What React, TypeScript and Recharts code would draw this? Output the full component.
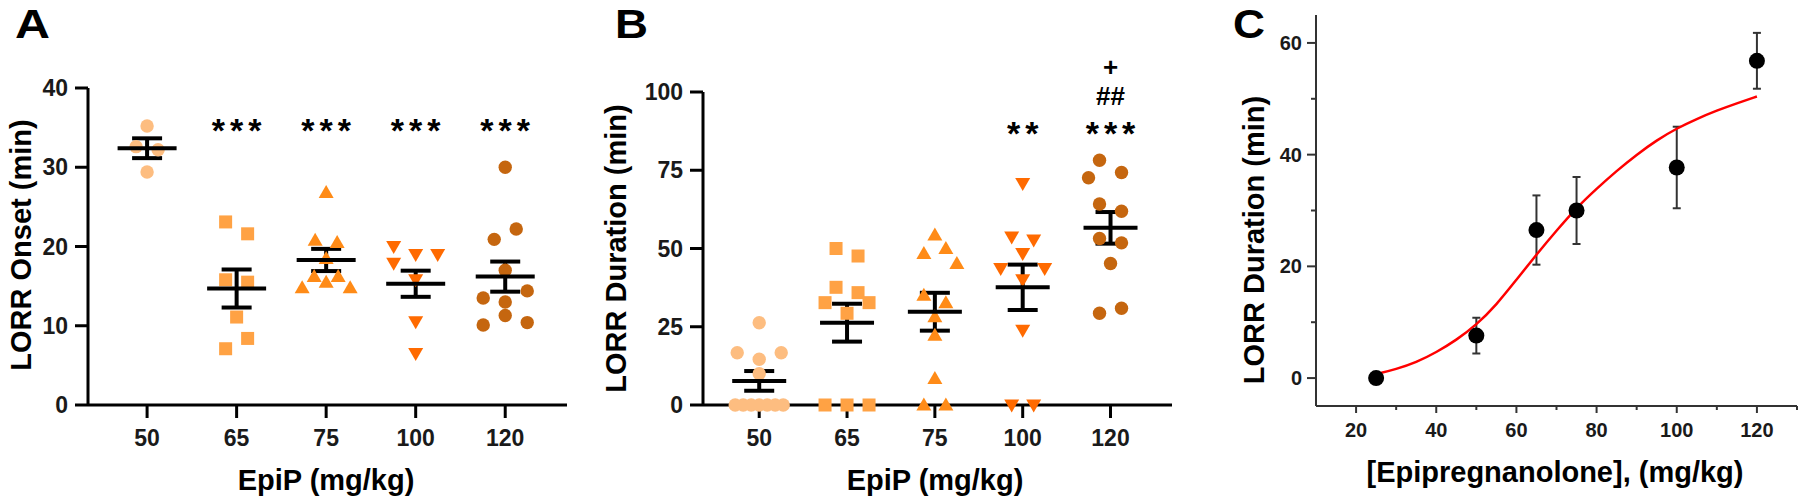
import React from "react";
import {
  ComposedChart,
  ErrorBar,
  Label,
  Line,
  Scatter,
  XAxis,
  YAxis,
} from "recharts";

const FONT = "Arial, 'Liberation Sans', Helvetica, sans-serif";

const doses = ["50", "65", "75", "100", "120"];
const groupColors = ["#FDBD80", "#FFA244", "#FF8B17", "#FF6A00", "#C5660F"];

// A: LORR onset (min), per dose
const onset50 = [35.2, 32.6, 32.2, 29.4];
const onset65 = [23.1, 21.6, 15.8, 15.5, 11.1, 7.1, 8.4];
const onset75 = [26.8, 20.8, 20.5, 18.5, 14.8, 16.2, 15.5, 16.2, 14.8];
const onset100 = [20.0, 19.0, 19.0, 17.9, 15.8, 10.5, 6.5];
const onset120 = [30.0, 20.9, 22.2, 17.0, 13.5, 13.0, 14.4, 10.1, 11.3, 10.4];
const onsetMean = [32.4, 14.7, 18.3, 15.3, 16.2];
const onsetSem = [1.25, 2.4, 1.4, 1.65, 1.9];
const onsetSig = [[], ["***"], ["***"], ["***"], ["***"]];

// B: LORR duration (min)
const dur50 = [26.3, 16.7, 14.6, 16.7, 10.0, 0, 0, 0, 0, 0, 0, 0];
const dur65 = [50.0, 47.6, 37.6, 35.9, 32.7, 29.3, 32.7, 0, 0, 0];
const dur75 = [54.3, 48.4, 50.0, 45.2, 35.1, 32.7, 28.2, 22.3, 8.5, 0, 0];
const dur100 = [70.8, 53.7, 52.7, 48.4, 43.6, 40.0, 43.6, 23.9, 0, 0];
const dur120 = [78.2, 74.3, 72.6, 64.2, 61.9, 53.2, 51.8, 45.2, 29.3, 30.9];
const durMean = [7.7, 26.3, 29.8, 37.6, 56.6];
const durSem = [3.15, 6.05, 6.05, 7.25, 5.05];
const durSig = [[], [], [], ["**"], ["***", "##", "+"]];

// C: dose-response, mean +/- SEM and the fitted curve
const crDose = [25, 50, 65, 75, 100, 120];
const crMean = [0, 7.6, 26.5, 30.0, 37.7, 56.8];
const crSem = [0, 3.2, 6.2, 6.0, 7.3, 5.0];
const fitDose = [25, 30, 35, 40, 45, 50, 55, 60, 65, 70, 75, 80, 85, 90, 95, 100, 105, 110, 115, 120];
const fitDur = [0.7, 1.6, 2.8, 4.6, 6.8, 9.5, 13.1, 17.6, 22.1, 26.4, 30.5, 33.9, 37.1, 40.0, 42.6, 44.7, 46.4, 47.9, 49.2, 50.4];

const H = 499;
const tickFont = { fontFamily: FONT, fontSize: 23, fontWeight: 700, fill: "#1a1a1a" };
const titleStyle: React.CSSProperties = { fontFamily: FONT, fontSize: 29, fontWeight: 700, fill: "#000" };

// prism-like column scatter: rows of close values are spread symmetrically
function swarm(vals: number[], pxPerUnit: number): number[] {
  const STEP = 22, SPREAD = 48, GAP = 13;
  const order = vals.map((_, i) => i).sort((a, b) => vals[b] - vals[a] || a - b);
  const clusters: number[][] = [];
  for (const i of order) {
    const c = clusters[clusters.length - 1];
    if (c && (vals[c[0]] - vals[i]) * pxPerUnit < GAP) c.push(i);
    else clusters.push([i]);
  }
  const off: number[] = new Array(vals.length).fill(0);
  const placed: number[] = [];
  const hits = (i: number, dx: number) =>
    placed.some((j) => Math.abs(off[j] - dx) < GAP && Math.abs(vals[j] - vals[i]) * pxPerUnit < GAP);
  for (const c of clusters) {
    const members = [...c].sort((a, b) => a - b);
    const n = members.length;
    if (n === 1) {
      const i = members[0];
      const cands = [0, -STEP, STEP, -2 * STEP, 2 * STEP];
      const dx = cands.find((d) => !hits(i, d));
      off[i] = dx === undefined ? 0 : dx;
    } else {
      const s = Math.min(STEP, SPREAD / (n - 1));
      members.forEach((m, k) => (off[m] = (k - (n - 1) / 2) * s));
    }
    placed.push(...members);
  }
  return off;
}

function markerShape(g: number) {
  const color = groupColors[g];
  return (p: any) => {
    const { cx, cy } = p;
    if (cx == null || cy == null) return <g />;
    if (g === 1) return <rect x={cx - 6.5} y={cy - 6.5} width={13} height={13} fill={color} />;
    if (g === 2)
      return <polygon points={`${cx},${cy - 7.5} ${cx + 7.5},${cy + 5.5} ${cx - 7.5},${cy + 5.5}`} fill={color} />;
    if (g === 3)
      return <polygon points={`${cx - 7.5},${cy - 5.5} ${cx + 7.5},${cy - 5.5} ${cx},${cy + 7.5}`} fill={color} />;
    return <circle cx={cx} cy={cy} r={6.7} fill={color} />;
  };
}

function SigMark(p: any) {
  const lines: string[] = p.payload.lines;
  return (
    <g>
      {lines.map((t, k) => {
        const star = t.indexOf("*") >= 0;
        const fs = star ? 34 : 26;
        const y = p.cy - k * 29.5 + fs * (star ? 0.58 : 0.35);
        return (
          <text
            key={k}
            x={p.cx + (star ? 2.5 : 0)}
            y={y}
            textAnchor="middle"
            fontFamily={FONT}
            fontWeight={700}
            fontSize={fs}
            letterSpacing={star ? 5 : 0}
            fill="#000"
          >
            {t}
          </text>
        );
      })}
    </g>
  );
}

function yTitle(text: string, dx: number, dy: number) {
  return (
    <Label
      content={(props: any) => {
        const vb = props.viewBox;
        const x = vb.x + dx;
        const y = vb.y + vb.height / 2 + dy;
        return (
          <text x={x} y={y} transform={`rotate(-90 ${x} ${y})`} textAnchor="middle" dominantBaseline="central" style={titleStyle}>
            {text}
          </text>
        );
      }}
    />
  );
}

function xTitle(text: string, dx: number, fromBottom: number) {
  return (
    <Label
      content={(props: any) => {
        const vb = props.viewBox;
        return (
          <text x={vb.x + vb.width / 2 + dx} y={vb.y + vb.height - fromBottom} textAnchor="middle" style={titleStyle}>
            {text}
          </text>
        );
      }}
    />
  );
}

interface DotPlotProps {
  groups: number[][];
  mean: number[];
  sem: number[];
  sig: string[][];
  yTicks: number[];
  title: string;
  width: number;
  yAxisWidth: number;
  top: number;
  right: number;
  xDomain: [number, number];
  meanHalf: number;
  titleDx: number;
  titleDy: number;
  xTitleDx: number;
}

function DotPlot(props: DotPlotProps) {
  const { groups, mean, sem, sig, yTicks, width, yAxisWidth, top, right, xDomain } = props;
  const xAxisHeight = 94;
  const yMax = yTicks[yTicks.length - 1];
  const plotW = width - yAxisWidth - right;
  const plotH = H - top - xAxisHeight;
  const pxX = plotW / (xDomain[1] - xDomain[0]);
  const pxY = plotH / yMax;

  const pointSets = groups.map((vals, g) => {
    const off = swarm(vals, pxY);
    return vals.map((v, i) => ({ x: g + off[i] / pxX, y: v }));
  });
  const meanData = mean.map((m, g) => ({ x: g, y: m, sem: sem[g] }));
  const sigData = sig
    .map((lines, g) => ({ x: g, y: yMax * 0.893, lines }))
    .filter((d) => d.lines.length > 0);

  const meanShape = (p: any) => (
    <line x1={p.cx - props.meanHalf} x2={p.cx + props.meanHalf} y1={p.cy} y2={p.cy} stroke="#000" strokeWidth={4} />
  );

  return (
    <ComposedChart width={width} height={H} margin={{ top, right, bottom: 0, left: 0 }}>
      <XAxis
        type="number"
        dataKey="x"
        domain={xDomain}
        ticks={[0, 1, 2, 3, 4]}
        interval={0}
        tickFormatter={(v: number) => doses[v]}
        height={xAxisHeight}
        axisLine={{ stroke: "#000", strokeWidth: 3 }}
        tickLine={{ stroke: "#000", strokeWidth: 3 }}
        tickSize={13}
        tickMargin={12}
        tick={tickFont}
      >
        {xTitle("EpiP (mg/kg)", props.xTitleDx, 9)}
      </XAxis>
      <YAxis
        type="number"
        dataKey="y"
        domain={[0, yMax]}
        ticks={yTicks}
        interval={0}
        width={yAxisWidth}
        axisLine={{ stroke: "#000", strokeWidth: 3 }}
        tickLine={{ stroke: "#000", strokeWidth: 3 }}
        tickSize={13}
        tickMargin={7}
        tick={tickFont}
      >
        {yTitle(props.title, props.titleDx, props.titleDy)}
      </YAxis>
      {pointSets.map((pts, g) => (
        <Scatter key={g} data={pts} shape={markerShape(g)} isAnimationActive={false} />
      ))}
      <Scatter data={meanData} shape={meanShape} isAnimationActive={false}>
        <ErrorBar dataKey="sem" direction="y" width={15} stroke="#000" strokeWidth={4} isAnimationActive={false} />
      </Scatter>
      <Scatter data={sigData} shape={SigMark} isAnimationActive={false} />
    </ComposedChart>
  );
}

const CTickX = (p: any) => {
  const v = p.payload.value;
  const major = v % 20 === 0;
  return (
    <g>
      <line x1={p.x} x2={p.x} y1={p.y} y2={p.y + (major ? 7 : 4)} stroke="#333" strokeWidth={2} />
      {major && (
        <text x={p.x} y={p.y + 31} textAnchor="middle" fontFamily={FONT} fontSize={20} fontWeight={700} fill="#1a1a1a">
          {v}
        </text>
      )}
    </g>
  );
};

const CTickY = (p: any) => {
  const v = p.payload.value;
  const major = v % 20 === 0;
  return (
    <g>
      <line x1={p.x - (major ? 9 : 5)} x2={p.x} y1={p.y} y2={p.y} stroke="#333" strokeWidth={2} />
      {major && (
        <text x={p.x - 14} y={p.y} textAnchor="end" dominantBaseline="central" fontFamily={FONT} fontSize={20} fontWeight={700} fill="#1a1a1a">
          {v}
        </text>
      )}
    </g>
  );
};

function DoseResponse() {
  const points = crDose.map((d, i) => ({ x: d, y: crMean[i], sem: crSem[i] }));
  const fit = fitDose.map((d, i) => ({ x: d, y: fitDur[i] }));
  const dot = (p: any) => <circle cx={p.cx} cy={p.cy} r={8} fill="#000" />;
  return (
    <ComposedChart width={620} height={H} margin={{ top: 15, right: 3, bottom: 0, left: 0 }}>
      <XAxis
        type="number"
        dataKey="x"
        domain={[10, 130]}
        ticks={[20, 30, 40, 50, 60, 70, 80, 90, 100, 110, 120, 130]}
        interval={0}
        height={93}
        axisLine={{ stroke: "#333", strokeWidth: 2 }}
        tickLine={false}
        tickSize={0}
        tickMargin={0}
        tick={CTickX}
      >
        {xTitle("[Epipregnanolone], (mg/kg)", -1.5, 17)}
      </XAxis>
      <YAxis
        type="number"
        dataKey="y"
        domain={[-5, 65]}
        ticks={[0, 10, 20, 30, 40, 50, 60]}
        interval={0}
        width={136}
        axisLine={{ stroke: "#333", strokeWidth: 2 }}
        tickLine={false}
        tickSize={0}
        tickMargin={0}
        tick={CTickY}
      >
        {yTitle("LORR Duration (min)", 74, 29.5)}
      </YAxis>
      <Scatter data={points} shape={dot} isAnimationActive={false}>
        <ErrorBar dataKey="sem" direction="y" width={4} stroke="#333" strokeWidth={2} isAnimationActive={false} />
      </Scatter>
      <Line data={fit} dataKey="y" type="basis" stroke="#FF0000" strokeWidth={2.5} dot={false} activeDot={false} isAnimationActive={false} />
    </ComposedChart>
  );
}

export default function App() {
  const letter = { fontFamily: FONT, fontWeight: 700, fill: "#000" };
  return (
    <div style={{ position: "absolute", left: 0, top: 0, width: 1800, height: H, background: "#fff" }}>
      <div style={{ position: "absolute", left: 0, top: 0 }}>
        <DotPlot
          groups={[onset50, onset65, onset75, onset100, onset120]}
          mean={onsetMean}
          sem={onsetSem}
          sig={onsetSig}
          yTicks={[0, 10, 20, 30, 40]}
          title="LORR Onset (min)"
          width={580}
          yAxisWidth={88}
          top={88}
          right={13}
          xDomain={[-0.66, 4.69]}
          meanHalf={29.5}
          titleDx={21}
          titleDy={-1.5}
          xTitleDx={-1.5}
        />
      </div>
      <div style={{ position: "absolute", left: 580, top: 0 }}>
        <DotPlot
          groups={[dur50, dur65, dur75, dur100, dur120]}
          mean={durMean}
          sem={durSem}
          sig={durSig}
          yTicks={[0, 25, 50, 75, 100]}
          title="LORR Duration (min)"
          width={600}
          yAxisWidth={123}
          top={92}
          right={8}
          xDomain={[-0.64, 4.7]}
          meanHalf={27}
          titleDx={36}
          titleDy={0}
          xTitleDx={-2.5}
        />
      </div>
      <div style={{ position: "absolute", left: 1180, top: 0 }}>
        <DoseResponse />
      </div>
      <svg width={1800} height={H} style={{ position: "absolute", left: 0, top: 0, pointerEvents: "none" }}>
        <text x={15} y={38} fontSize={40} textLength={35} lengthAdjust="spacingAndGlyphs" style={letter}>A</text>
        <text x={615} y={38} fontSize={40} textLength={33} lengthAdjust="spacingAndGlyphs" style={letter}>B</text>
        <text x={1233} y={38} fontSize={40} textLength={32} lengthAdjust="spacingAndGlyphs" style={letter}>C</text>
      </svg>
    </div>
  );
}
